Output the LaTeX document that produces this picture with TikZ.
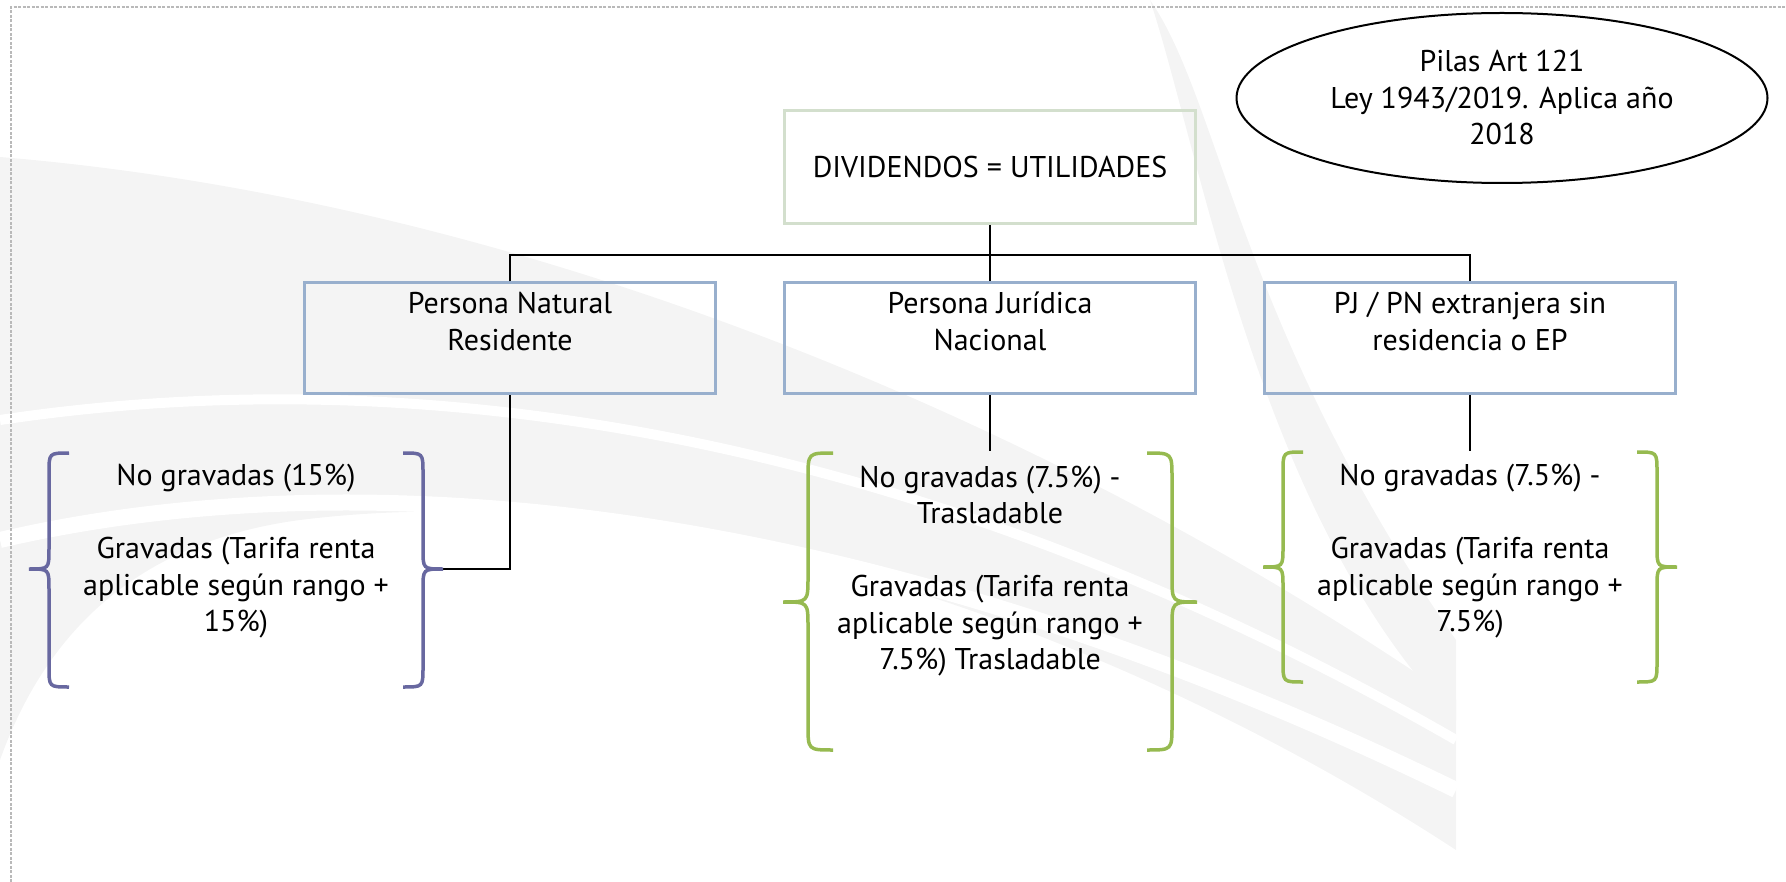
\documentclass[tikz,border=0pt]{standalone}
\usepackage{fontspec}
\setmainfont{PT Sans}
\usepackage{tikz}
\usetikzlibrary{shapes.geometric}

\definecolor{bordeazul}{RGB}{152,175,205}
\definecolor{bordeverde}{RGB}{211,223,205}
\definecolor{morado}{RGB}{104,104,160}
\definecolor{verdellave}{RGB}{150,186,80}
\definecolor{fondo}{RGB}{244,244,244}

% llave: estilo, x punta, media anchura (+ izq, - der), y arriba, y punta, y abajo
\newcommand{\llave}[6]{%
  \draw[#1] ({#2+2*#3},#4) .. controls ({#2+#3},#4) .. ({#2+#3},{#4+abs(#3)})
    -- ({#2+#3},{#5-abs(#3)}) .. controls ({#2+#3},#5) .. (#2,#5)
    .. controls ({#2+#3},#5) .. ({#2+#3},{#5+abs(#3)})
    -- ({#2+#3},{#6-abs(#3)}) .. controls ({#2+#3},#6) .. ({#2+2*#3},#6);}

\begin{document}
\begin{tikzpicture}[x=1pt,y=-1pt,
  caja/.style={draw=bordeazul,line width=3pt,minimum width=411pt,minimum height=111pt},
  cajasup/.style={draw=bordeverde,line width=3pt,minimum width=411pt,minimum height=113pt},
  texto/.style={align=center,font=\fontsize{30}{36.5}\selectfont},
  elipse/.style={ellipse,draw,line width=2pt,minimum width=531pt,minimum height=170pt,inner sep=0pt},
  conector/.style={line width=2pt},
  llavemorada/.style={draw=morado,line width=3.5pt},
  llaveverde/.style={draw=verdellave,line width=3.5pt}]
 \useasboundingbox (0,0) rectangle (1786,882);

 % fondo
 \fill[fondo] (0,157) .. controls (520,200) and (1050,420) .. (1456,700) -- (1456,850)
   .. controls (1150,650) and (700,470) .. (300,520) .. controls (150,540) and (50,620) .. (0,760) -- cycle;
 \fill[fondo] (1150,0) .. controls (1220,100) and (1240,330) .. (1456,640) -- (1456,720)
   .. controls (1260,520) and (1200,150) .. (1150,0) -- cycle;
 \draw[white,line width=16pt] (0,540) .. controls (300,470) and (800,470) .. (1456,790);
 \draw[white,line width=10pt] (0,420) .. controls (400,360) and (900,420) .. (1456,740);
 \draw[gray!55,line width=1.2pt,dash pattern=on 3pt off 1.5pt] (11,882) -- (11,7) -- (1786,7);

 \node[elipse,texto] (pilas) at (1502,98) {Pilas Art 121\\Ley 1943/2019. Aplica año\\2018};
 \node[cajasup,texto] (div) at (990,167) {DIVIDENDOS = UTILIDADES};

 \node[caja] (pn) at (510,338.5) {};
 \node[caja] (pj) at (990,338.5) {};
 \node[caja] (pe) at (1470,338.5) {};
 \node[texto] (pn-t) at (510,321.5) {Persona Natural\\Residente};
 \node[texto] (pj-t) at (990,321.5) {Persona Jurídica\\Nacional};
 \node[texto] (pe-t) at (1470,321.5) {PJ / PN extranjera sin\\residencia o EP};

 \coordinate (barra) at (990,255);
 \coordinate (punta1) at (443,569);
 \coordinate (c2) at (990,451);
 \coordinate (c3) at (1470,451);

 \draw[conector] (div.south) -- (pj.north);
 \draw[conector] (pn.north) |- (barra) -| (pe.north);
 \draw[conector] (pn.south) |- (punta1);
 \draw[conector] (pj.south) -- (c2);
 \draw[conector] (pe.south) -- (c3);

 % llaves
 \llave{llavemorada}{29}{20}{453}{569}{687}
 \llave{llavemorada}{443}{-20}{453}{569}{687}
 \llave{llaveverde}{783}{25}{453}{602}{750}
 \llave{llaveverde}{1197}{-25}{453}{602}{750}
 \llave{llaveverde}{1263}{20}{452}{567}{682}
 \llave{llaveverde}{1677}{-20}{452}{567}{682}

 \node[texto] (t1) at (236,551.5) {No gravadas (15\%)\\[36.5pt]Gravadas (Tarifa renta\\aplicable según rango +\\15\%)};
 \node[texto] (t2) at (990,571) {No gravadas (7.5\%) -\\Trasladable\\[36.5pt]Gravadas (Tarifa renta\\aplicable según rango +\\7.5\%) Trasladable};
 \node[texto] (t3) at (1470,551.5) {No gravadas (7.5\%) -\\[36.5pt]Gravadas (Tarifa renta\\aplicable según rango +\\7.5\%)};
\end{tikzpicture}
\end{document}
